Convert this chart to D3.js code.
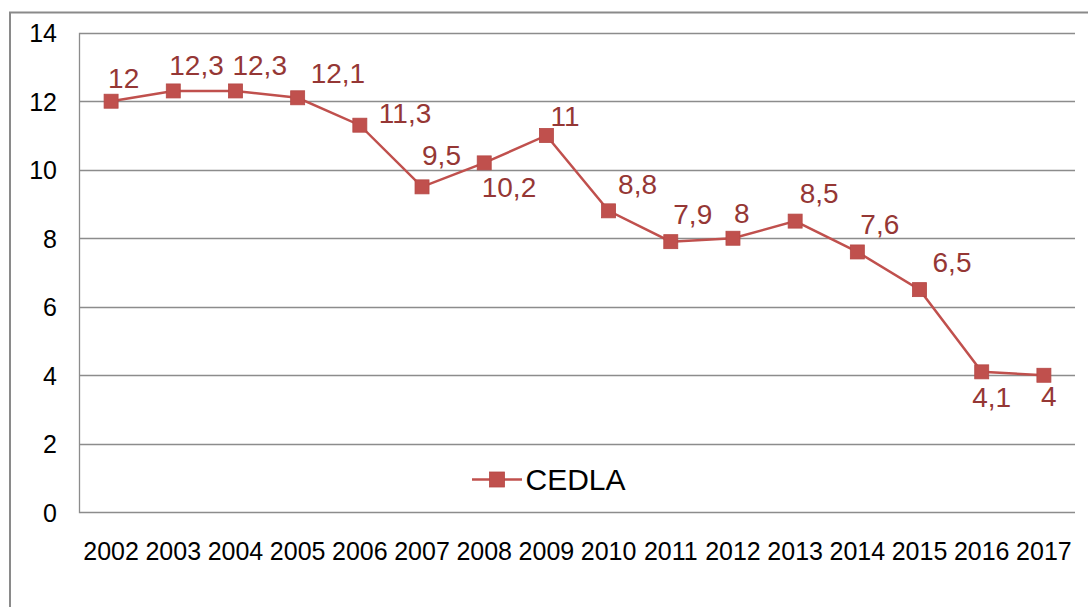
<!DOCTYPE html>
<html>
<head>
<meta charset="utf-8">
<script src="https://cdn.jsdelivr.net/npm/d3@7"></script>
<style>
  html, body { margin: 0; padding: 0; background: #fff; }
  svg { display: block; font-family: "Liberation Sans", Arial, sans-serif; }
</style>
</head>
<body>
<svg id="chart" width="1088" height="607"></svg>
<script>
// ---- data ----
const years = ["2002","2003","2004","2005","2006","2007","2008","2009","2010","2011","2012","2013","2014","2015","2016","2017"];
const values = [12, 12.3, 12.3, 12.1, 11.3, 9.5, 10.2, 11, 8.8, 7.9, 8, 8.5, 7.6, 6.5, 4.1, 4];
const valueLabels = ["12","12,3","12,3","12,1","11,3","9,5","10,2","11","8,8","7,9","8","8,5","7,6","6,5","4,1","4"];
const yTicks = [0, 2, 4, 6, 8, 10, 12, 14];
const seriesName = "CEDLA";

// label placement offsets (layout only): [dx from point to text start, dy from point to baseline]
const labelOffsets = [[-3,-13],[-4,-16],[-3,-16],[13,-14.5],[19,-2],[0,-22],[-2.5,34],[4,-9],
                      [9.5,-17],[2.5,-18],[1,-15],[4.5,-18],[3,-18],[13,-18],[-9.5,35],[-3,31]];

const lineColor = "#c0504d";
const labelColor = "#953735";
const gridColor = "#8c8c8c";

const svg = d3.select("#chart");

// outer chart border (extends beyond the window to right and bottom)
svg.append("rect")
  .attr("x", 10).attr("y", 12.5)
  .attr("width", 1200).attr("height", 700)
  .attr("fill", "#fff").attr("stroke", "#8a8a8a").attr("stroke-width", 2);

const pLeft = 80, pRight = 1075, pTop = 32.7, pBottom = 512.3;

const x = d3.scaleBand().domain(years).range([pLeft, pRight]).padding(0);
const y = d3.scaleLinear().domain([0, 14]).range([pBottom, pTop]);

// gridlines
svg.append("g")
  .selectAll("line")
  .data(yTicks)
  .join("line")
  .attr("x1", pLeft).attr("x2", pRight)
  .attr("y1", d => Math.round(y(d)) + 0.5).attr("y2", d => Math.round(y(d)) + 0.5)
  .attr("stroke", gridColor).attr("stroke-width", 1.3);

// y axis line
svg.append("line")
  .attr("x1", pLeft - 0.5).attr("x2", pLeft - 0.5)
  .attr("y1", y(14)).attr("y2", y(0) + 1)
  .attr("stroke", gridColor).attr("stroke-width", 1.3);

// y axis labels
const yAxis = d3.axisLeft(y).tickValues(yTicks).tickSize(0).tickPadding(0).tickFormat(d3.format("d"));
const gy = svg.append("g").attr("transform", `translate(${57},0)`).call(yAxis);
gy.select(".domain").remove();
gy.selectAll("text")
  .attr("font-size", 25).attr("fill", "#000")
  .attr("font-family", "'Liberation Sans', Arial, sans-serif")
  .attr("dy", "0.36em");

// x axis labels
const xAxis = d3.axisBottom(x).tickSize(0).tickPadding(0);
const gx = svg.append("g").attr("transform", `translate(0,${pBottom})`).call(xAxis);
gx.select(".domain").remove();
gx.selectAll("text")
  .attr("font-size", 25).attr("fill", "#000")
  .attr("font-family", "'Liberation Sans', Arial, sans-serif")
  .attr("dy", 0).attr("y", 47.5);

const cx = d => x(d) + x.bandwidth() / 2;
const pts = years.map((yr, i) => ({ yr, v: values[i], lab: valueLabels[i], off: labelOffsets[i] }));

// line
svg.append("path")
  .datum(pts)
  .attr("d", d3.line().x(d => cx(d.yr)).y(d => y(d.v)))
  .attr("fill", "none").attr("stroke", lineColor).attr("stroke-width", 2.5);

// markers
const ms = 14;
svg.append("g").selectAll("rect")
  .data(pts)
  .join("rect")
  .attr("x", d => cx(d.yr) - ms / 2).attr("y", d => y(d.v) - ms / 2)
  .attr("width", ms).attr("height", ms)
  .attr("fill", lineColor).attr("stroke", "#b54845").attr("stroke-width", 0.8);

// data labels
svg.append("g").selectAll("text")
  .data(pts)
  .join("text")
  .attr("x", d => cx(d.yr) + d.off[0])
  .attr("y", d => y(d.v) + d.off[1])
  .attr("font-size", 28).attr("fill", labelColor)
  .text(d => d.lab);

// legend
const lg = svg.append("g");
lg.append("line").attr("x1", 472).attr("x2", 522).attr("y1", 479.5).attr("y2", 479.5)
  .attr("stroke", lineColor).attr("stroke-width", 2.5);
lg.append("rect").attr("x", 497 - 7.5).attr("y", 479.5 - 7.5).attr("width", 15).attr("height", 15)
  .attr("fill", lineColor).attr("stroke", "#b54845").attr("stroke-width", 0.8);
lg.append("text").attr("x", 525.5).attr("y", 489.5).attr("font-size", 30).attr("fill", "#000").text(seriesName);
</script>
</body>
</html>
